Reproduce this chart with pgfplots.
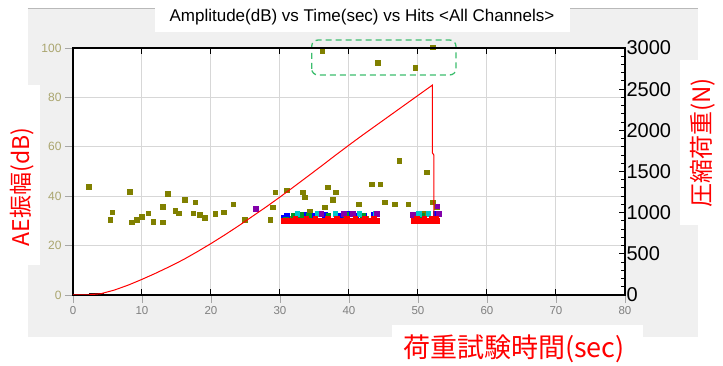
\documentclass[border=0pt]{standalone}
\usepackage{pgfplots}
\pgfplotsset{compat=1.18}
\usepackage{fontspec}
\setmainfont{Liberation Sans}
\newfontfamily\jp{Noto Sans CJK JP}
\definecolor{olivem}{RGB}{128,128,0}
\definecolor{ticklab}{RGB}{170,165,110}
\definecolor{panel}{RGB}{240,240,240}
\definecolor{gridc}{RGB}{215,215,215}
\definecolor{boxgreen}{RGB}{60,190,110}
\definecolor{aecyan}{RGB}{0,200,200}
\definecolor{aegreen}{RGB}{0,150,40}
\definecolor{aepurple}{RGB}{130,0,170}
\begin{document}
\begin{tikzpicture}
\useasboundingbox (-73pt,-71pt) rectangle (650pt,295pt);
\fill[white] (-73pt,-71pt) rectangle (650pt,295pt);
\fill[panel] (-45pt,-42pt) rectangle (625pt,287pt);
\draw[gray!55, line width=1pt] (-45pt,286.5pt) -- (625pt,286.5pt);
\fill[white] (82pt,263pt) rectangle (497pt,295pt);
\fill[white] (-73pt,30pt) rectangle (-33pt,210pt);
\fill[white] (607pt,70pt) rectangle (650pt,235pt);
\fill[white] (319pt,-71pt) rectangle (570pt,-30pt);
\node at (289pt,278pt) {\fontsize{17}{17}\selectfont Amplitude(dB) vs Time(sec) vs Hits <All Channels>};
\node[rotate=90, red] at (-51pt,108pt) {\jp\fontsize{23}{23}\selectfont AE振幅(dB)};
\node[rotate=90, red] at (630pt,152pt) {\jp\fontsize{24}{24}\selectfont 圧縮荷重(N)};
\node[red] at (441pt,-54pt) {\jp\fontsize{27}{27}\selectfont 荷重試験時間(sec)};
\begin{axis}[
  at={(0pt,0pt)}, anchor=south west,
  width=552pt, height=247pt, scale only axis,
  xmin=0, xmax=80, ymin=0, ymax=100,
  xtick={0,10,...,80}, ytick={0,20,...,100},
  grid=major,
  major grid style={gridc, line width=1pt},
  axis background/.style={fill=white},
  axis line style={black, line width=1.3pt},
  tick align=outside, xtick pos=bottom, ytick pos=left,
  tick style={gray!70, line width=0.8pt},
  major tick length=8pt,
  /pgf/number format/assume math mode=true,
  xticklabel style={font=\fontsize{11.5}{11.5}\selectfont, text=gray},
  yticklabel style={font=\fontsize{12}{12}\selectfont, text=ticklab},
  clip=false,
]
% olive hits
\addplot[only marks, mark=square*, mark size=2.3pt, olivem] coordinates {
(2.3,43.9)(8.2,41.7)(13.7,40.9)(5.7,33.5)(5.4,30.4)(8.5,29.4)(9.2,30.4)(10,31.7)
(10.9,33.1)(11.6,29.7)(13,29.4)(13,35.7)(14.8,34.1)(15.3,33.1)(16.2,38.7)(17.7,37.5)
(17.4,33.1)(18.4,32.4)(19.1,31.4)(20.6,32.8)(21.8,33.5)(23.2,36.7)(24.9,30.6)
(28.9,35.5)(28.6,30.4)(29.3,41.6)(31,42.5)(33.3,41.6)(33.6,39.6)(36.9,43.6)
(38.1,41.6)(37.6,38.5)(36.5,35.5)(34.3,33.7)(41.4,36.7)(43.3,44.8)(44.5,44.8)
(45.2,37.5)(46.6,36.7)(47.3,54.4)(48.6,36.7)(51.3,49.7)(52.1,37.5)(52.7,35.7)
(31.5,31)(35,32)(39,32)(42.5,31)(50,32)(51,33)
(36.1,98.9)(44.2,94)(49.6,92)(52.1,100.3)
};
\addplot[only marks, mark=square*, mark size=2.3pt, blue] coordinates {
(31,32)(33.5,32.5)(35,32)(36.5,32.5)(38.8,32)(40,33)(41,32)(43.5,32.5)(49.3,32)(52.5,33)(30.5,31.5)(42.2,32)
};
\addplot[only marks, mark=square*, mark size=2.3pt, aegreen] coordinates {
(32,32)(33,32.5)(34.2,32)(37,32)(39.5,32.5)(42,32)(50.5,32)(30.8,30.5)
};
\addplot[only marks, mark=square*, mark size=2.3pt, aecyan] coordinates {
(32.5,33)(35.5,33)(38,33)(41.5,33)(43.8,33)(51.5,33)(50.1,33)
};
\addplot[only marks, mark=square*, mark size=2.3pt, aepurple] coordinates {
(26.5,35)(39.2,33)(40.5,33)(44,33)(52.8,36)(53,33)(49.2,32.5)(36,33)
};
\addplot[only marks, mark=square*, mark size=2.3pt, red] coordinates {
(30.5,30)(31.1,30)(31.7,30)(32.3,30)(32.9,30)(33.5,30)(34.1,30)(34.7,30)(35.3,30)
(35.9,30)(36.5,30)(37.1,30)(37.7,30)(38.3,30)(38.9,30)(39.5,30)(40.1,30)(40.7,30)
(41.3,30)(41.9,30)(42.5,30)(43.1,30)(43.7,30)(44,30)
(32.2,31)(33.8,31)(35.1,31)(36.9,31)(38.2,31)(39.7,31)(40.9,31)(42.3,31)(43.6,31)
(49.4,30)(50,30)(50.6,30)(51.2,30)(51.8,30)(52.4,30)(52.8,30)
(49.8,31)(50.9,31)(52,31)(52.6,31)
};
\addplot[darkgray!60!red!40!black, line width=2.5pt] coordinates {(2.3,0.5)(4.5,0.5)};
\draw[boxgreen, line width=1.3pt, dash pattern=on 6pt off 4pt, rounded corners=6pt]
  (axis cs:34.6,89.1) rectangle (axis cs:55.5,103.2);
\end{axis}
\begin{axis}[
  at={(0pt,0pt)}, anchor=south west,
  width=552pt, height=247pt, scale only axis,
  xmin=0, xmax=80, ymin=0, ymax=3000,
  xtick={0,10,...,80}, xticklabels={},
  ytick={0,500,...,3000}, minor y tick num=4,
  xtick pos=both, ytick pos=right, yticklabel pos=right,
  tick align=inside,
  axis line style={black, line width=1.3pt},
  tick style={black, line width=1pt},
  major tick length=6pt, minor tick length=4pt,
  /pgf/number format/assume math mode=true,
  /pgf/number format/1000 sep={},
  yticklabel style={font=\fontsize{20}{20}\selectfont, anchor=west, xshift=-2pt},
]
\addplot[red, line width=1pt] coordinates {
(0,0)(2,0)(4,15)(6,60)(8,120)(10,190)(12,265)(14,345)(16,430)(18,525)(20,625)
(22,730)(24,840)(26,955)(28,1070)(30,1190)(32,1314)(34,1440)(36,1566)(38,1695)
(40,1821)(42,1944)(44,2064)(46,2184)(48,2304)(50,2424)(52.1,2550)(52.1,1725)
(52.3,1700)(52.3,950)
};
\end{axis}
\end{tikzpicture}
\end{document}
